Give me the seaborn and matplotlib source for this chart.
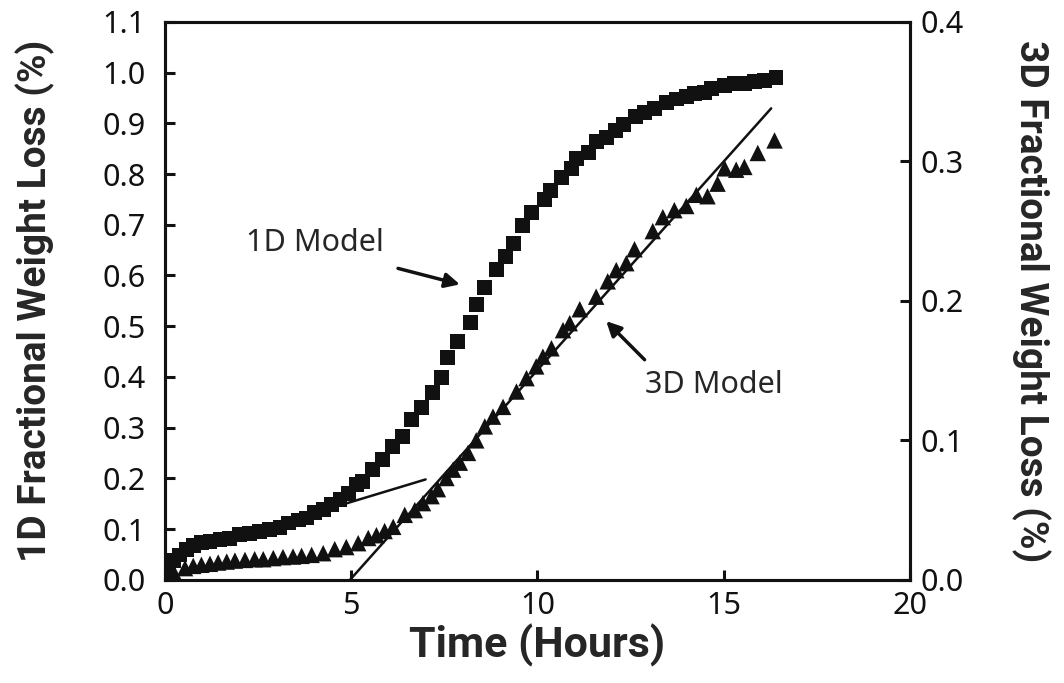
import matplotlib
matplotlib.use("Agg")
import matplotlib.pyplot as plt
import seaborn as sns

# 1D model (left axis)
t_1d = [0.1, 0.22, 0.40, 0.58, 0.76, 0.98, 1.21, 1.48, 1.74, 2.01, 2.28, 2.55, 2.82,
        3.09, 3.31, 3.58, 3.80, 4.02, 4.25, 4.47, 4.70, 4.92, 5.14, 5.31, 5.58, 5.85,
        6.12, 6.39, 6.62, 6.89, 7.19, 7.42, 7.59, 7.86, 8.20, 8.36, 8.59, 8.90, 9.14,
        9.36, 9.61, 9.84, 10.2, 10.35, 10.66, 10.91, 11.06, 11.38, 11.60, 11.85, 12.09,
        12.32, 12.63, 12.88, 13.15, 13.46, 13.73, 14.0, 14.22, 14.49, 14.67, 15.03,
        15.29, 15.56, 15.83, 16.1, 16.41]
loss_1d = [0.02, 0.039, 0.049, 0.059, 0.067, 0.074, 0.076, 0.079, 0.082, 0.089, 0.092,
           0.095, 0.100, 0.104, 0.112, 0.118, 0.122, 0.132, 0.138, 0.148, 0.158, 0.171,
           0.188, 0.194, 0.217, 0.237, 0.263, 0.282, 0.316, 0.340, 0.369, 0.399, 0.438,
           0.470, 0.507, 0.543, 0.576, 0.611, 0.637, 0.663, 0.698, 0.724, 0.750, 0.768,
           0.793, 0.811, 0.831, 0.843, 0.864, 0.872, 0.885, 0.898, 0.914, 0.921, 0.929,
           0.941, 0.948, 0.953, 0.958, 0.961, 0.968, 0.974, 0.978, 0.979, 0.982, 0.984,
           0.990]

# 3D model (right axis)
t_3d = [0.05, 0.27, 0.54, 0.76, 0.98, 1.21, 1.43, 1.66, 1.88, 2.15, 2.41, 2.64, 2.91,
        3.17, 3.44, 3.67, 3.94, 4.25, 4.56, 4.87, 5.19, 5.46, 5.68, 5.90, 6.13, 6.44,
        6.71, 6.93, 7.16, 7.33, 7.56, 7.74, 7.92, 8.14, 8.36, 8.59, 8.81, 9.08, 9.44,
        9.71, 9.97, 10.15, 10.38, 10.69, 10.87, 11.14, 11.58, 11.89, 12.12, 12.39,
        12.61, 13.1, 13.37, 13.68, 14.0, 14.27, 14.57, 14.84, 15.03, 15.34, 15.56,
        15.92, 16.37]
loss_3d = [0.002, 0.0036, 0.0084, 0.010, 0.0108, 0.0115, 0.0124, 0.0131, 0.0138, 0.0143,
           0.0148, 0.0148, 0.0156, 0.0163, 0.0167, 0.0172, 0.0179, 0.0191, 0.022, 0.0235,
           0.0263, 0.030, 0.032, 0.035, 0.038, 0.0466, 0.050, 0.055, 0.060, 0.065, 0.073,
           0.079, 0.084, 0.091, 0.100, 0.110, 0.117, 0.124, 0.135, 0.1446, 0.153, 0.160,
           0.166, 0.179, 0.184, 0.194, 0.203, 0.214, 0.222, 0.227, 0.237, 0.250, 0.260,
           0.265, 0.268, 0.276, 0.275, 0.284, 0.295, 0.294, 0.296, 0.306, 0.315]

# straight fit lines
fit_1d_t = [2.0, 7.0]
fit_1d_v = [0.087, 0.198]
fit_3d_t = [4.97, 16.28]
fit_3d_v = [0.0, 0.338]

sns.set_style("ticks")
plt.rcParams['font.family'] = ['Noto Sans', 'DejaVu Sans']

fig = plt.figure(figsize=(10.64, 6.83), dpi=100)
ax = fig.add_axes([0.155, 0.151, 0.700, 0.817])
ax2 = ax.twinx()

sns.scatterplot(x=t_1d, y=loss_1d, ax=ax, marker='s', color='#111111', s=115,
                edgecolor='none', legend=False)
ax.plot(fit_1d_t, fit_1d_v, color='#111111', lw=1.8, zorder=1)

sns.scatterplot(x=t_3d, y=loss_3d, ax=ax2, marker='^', color='#111111', s=140,
                edgecolor='none', legend=False)
ax2.plot(fit_3d_t, fit_3d_v, color='#111111', lw=1.8)

ax.set_xlim(0, 20)
ax.set_ylim(0, 1.1)
ax2.set_ylim(0, 0.4)
ax.set_xticks([0, 5, 10, 15, 20])
ax.set_yticks([i / 10 for i in range(12)])
ax.set_yticklabels([f"{i / 10:.1f}" for i in range(12)])
ax2.set_yticks([0, 0.1, 0.2, 0.3, 0.4])
ax2.set_yticklabels(["0.0", "0.1", "0.2", "0.3", "0.4"])

for a in (ax, ax2):
    for sp in a.spines.values():
        sp.set_linewidth(2.2)
        sp.set_color('#111111')
    a.tick_params(direction='in', length=7, width=2.2, labelsize=22, colors='#111111')
ax.tick_params(axis='y', pad=14)
ax.tick_params(axis='x', pad=8)
ax2.tick_params(axis='y', pad=8)

label_font = dict(family=['Roboto', 'DejaVu Sans'], fontweight='bold', fontsize=28)
ax.set_xlabel("Time (Hours)", family=['Roboto', 'DejaVu Sans'], fontweight='bold',
              fontsize=31, labelpad=2)
ax.set_ylabel("1D Fractional Weight Loss (%)", labelpad=34, **label_font)
ax2.set_ylabel("3D Fractional Weight Loss (%)", rotation=270, va='bottom',
               labelpad=34, **label_font)

arrow = dict(arrowstyle='-|>', lw=2.5, color='#111111', mutation_scale=22,
             shrinkA=0, shrinkB=0)
ax.text(4.02, 0.665, "1D Model", fontsize=22, ha='center', va='center')
ax.annotate("", xy=(7.92, 0.5825), xytext=(6.26, 0.614), arrowprops=arrow)
ax.text(14.73, 0.385, "3D Model", fontsize=22, ha='center', va='center')
ax.annotate("", xy=(11.85, 0.510), xytext=(12.88, 0.434), arrowprops=arrow)

fig.savefig("out.png", dpi=100)
